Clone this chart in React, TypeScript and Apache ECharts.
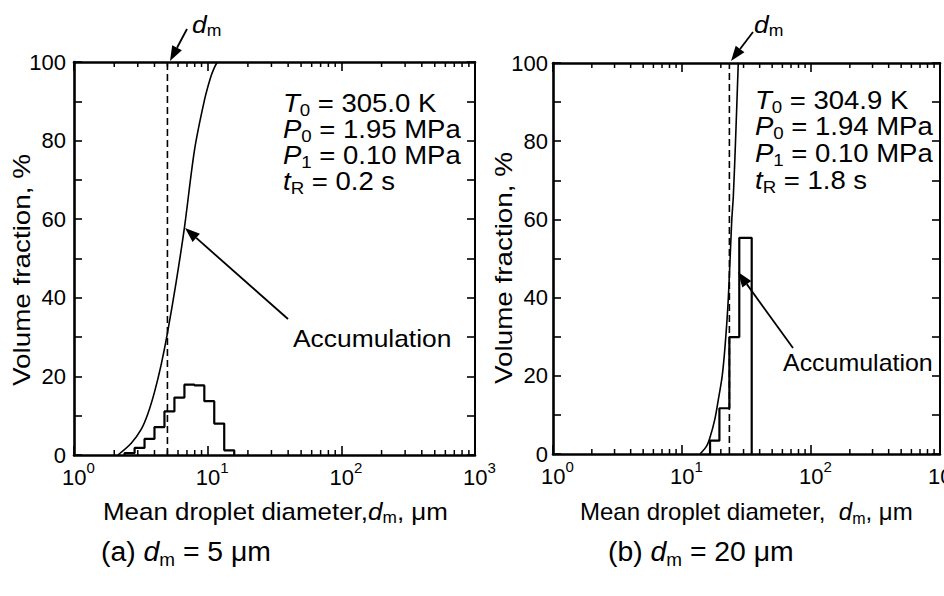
import React, { useEffect, useRef } from "react";
import * as echarts from "echarts";

// ---------- Panel (a): d_m = 5 um ----------
const binEdgesA = [2.39, 2.84, 3.37, 4.0, 4.75, 5.64, 6.7, 7.96, 9.44, 11.2, 13.3, 15.8];
const volumeA = [0.5, 1.8, 4.1, 7.1, 11.1, 14.6, 17.9, 17.7, 13.7, 8.0, 1.2];
const cumDiamA = [2.13, 2.68, 3.18, 3.57, 4.0, 4.49, 5.0, 5.81, 6.71, 7.97, 9.46, 10.5, 11.2, 11.8];
const cumValA = [0, 3, 6.5, 10.5, 16, 23, 31, 44, 58, 77.6, 90.3, 96, 98.5, 100];
const dmA = 5.0;

// ---------- Panel (b): d_m = 20 um ----------
const binEdgesB = [16.5, 19.5, 23.3, 27.8, 34.7];
const volumeB = [3.4, 11.7, 29.9, 55.3];
const cumDiamB = [13.8, 15.5, 16.5, 18, 19.1, 20.5, 21.5, 22.7, 23.6, 24.3, 25, 26, 27.3];
const cumValB = [0, 2, 4.3, 9, 13.8, 20, 27, 38, 50, 59.7, 66, 80, 100];
const dmB = 23.3;

// ---------- Axes ----------
const xMin = 1;
const xMax = 1000;
const yMin = 0;
const yMax = 100;
const yInterval = 20;
const minorXTicks = [2, 3, 4, 5, 6, 7, 8, 9, 20, 30, 40, 50, 60, 70, 80, 90, 200, 300, 400, 500, 600, 700, 800, 900];

const paramsA = ["305.0 K", "1.95 MPa", "0.10 MPa", "0.2 s"];
const paramsB = ["304.9 K", "1.94 MPa", "0.10 MPa", "1.8 s"];

const FONT = "'Liberation Sans', Arial, Helvetica, sans-serif";

function stepOutline(edges: number[], vals: number[]) {
  const pts: number[][] = [[edges[0], 0]];
  vals.forEach((v, i) => {
    pts.push([edges[i], v]);
    pts.push([edges[i + 1], v]);
  });
  pts.push([edges[edges.length - 1], 0]);
  return pts;
}

function zip(xs: number[], ys: number[]) {
  return xs.map((x, i) => [x, ys[i]]);
}

const xLabelRich = {
  pad: { width: 9, fontSize: 15 },
  b: { fontSize: 22, fontFamily: FONT, color: "#000", lineHeight: 28, verticalAlign: "bottom" },
  sup: { fontSize: 15, fontFamily: FONT, color: "#000", lineHeight: 16, verticalAlign: "top" },
};

function xAxis(gridIndex: number, position: "bottom" | "top") {
  return {
    type: "log",
    logBase: 10,
    gridIndex,
    position,
    min: xMin,
    max: xMax,
    axisLine: { show: true, onZero: false, lineStyle: { color: "#000", width: 2.6 } },
    axisTick: { show: true, inside: true, length: 9, lineStyle: { color: "#000", width: 1.6 } },
    axisLabel: {
      show: position === "bottom",
      margin: 5,
      formatter: (v: number) => `{pad| }{b|10}{sup|${Math.round(Math.log10(v))}}`,
      rich: xLabelRich,
    },
    splitLine: { show: false },
  };
}

function yAxis(gridIndex: number, position: "left" | "right", margin: number) {
  return {
    type: "value",
    gridIndex,
    position,
    min: yMin,
    max: yMax,
    interval: yInterval,
    axisLine: { show: true, onZero: false, lineStyle: { color: "#000", width: position === "left" ? 2.6 : 2 } },
    axisTick: { show: true, inside: true, length: 8, lineStyle: { color: "#000", width: 1.6 } },
    minorTick: { show: true, splitNumber: 2, length: 8, lineStyle: { color: "#000", width: 1.6 } },
    axisLabel: { show: position === "left", margin, fontSize: 22, fontFamily: FONT, color: "#000" },
    splitLine: { show: false },
  };
}

function minorTickSeries(xi: number, yi: number) {
  return {
    type: "custom",
    xAxisIndex: xi,
    yAxisIndex: yi,
    silent: true,
    data: minorXTicks.map((v) => [v, 0]),
    encode: { x: 0, y: 1 },
    renderItem: (params: any, api: any) => {
      const v = api.value(0);
      const b = api.coord([v, yMin]);
      const t = api.coord([v, yMax]);
      return {
        type: "group",
        children: [
          { type: "line", shape: { x1: b[0], y1: b[1], x2: b[0], y2: b[1] - 5 }, style: { stroke: "#000", lineWidth: 1.5 } },
          { type: "line", shape: { x1: t[0], y1: t[1], x2: t[0], y2: t[1] + 5 }, style: { stroke: "#000", lineWidth: 1.5 } },
        ],
      };
    },
  };
}

function panelSeries(xi: number, yi: number, edges: number[], vals: number[], cx: number[], cy: number[], dm: number) {
  return [
    {
      type: "line",
      xAxisIndex: xi,
      yAxisIndex: yi,
      data: stepOutline(edges, vals),
      showSymbol: false,
      symbol: "none",
      lineStyle: { color: "#000", width: 2.2 },
      silent: true,
    },
    {
      type: "line",
      xAxisIndex: xi,
      yAxisIndex: yi,
      data: zip(cx, cy),
      smooth: 0.3,
      showSymbol: false,
      symbol: "none",
      lineStyle: { color: "#000", width: 1.6 },
      silent: true,
    },
    {
      type: "line",
      xAxisIndex: xi,
      yAxisIndex: yi,
      data: [[dm, yMin], [dm, yMax]],
      showSymbol: false,
      symbol: "none",
      lineStyle: { color: "#000", width: 1.6, type: [7, 4] },
      silent: true,
    },
    minorTickSeries(xi, yi),
  ];
}

function arrow(x1: number, y1: number, x2: number, y2: number) {
  const ang = Math.atan2(y2 - y1, x2 - x1);
  const L = 15;
  const W = 5.5;
  const bx = x2 - L * Math.cos(ang);
  const by = y2 - L * Math.sin(ang);
  const px = -Math.sin(ang);
  const py = Math.cos(ang);
  return [
    { type: "line", shape: { x1, y1, x2: bx, y2: by }, style: { stroke: "#000", lineWidth: 1.8 } },
    {
      type: "polygon",
      shape: { points: [[x2, y2], [bx + px * W, by + py * W], [bx - px * W, by - py * W]] },
      style: { fill: "#000" },
    },
  ];
}

function makeRich(fs: number) {
  return {
    n: { fontSize: fs, fontFamily: FONT, color: "#000", lineHeight: fs + 6 },
    i: { fontSize: fs, fontFamily: FONT, fontStyle: "italic", color: "#000", lineHeight: fs + 6 },
    s: { fontSize: Math.round(fs * 0.66), fontFamily: FONT, color: "#000", lineHeight: Math.round(fs * 0.66), verticalAlign: "bottom" },
  };
}

function txt(x: number, y: number, text: string, fs = 24, sx = 1.1) {
  return {
    type: "text",
    x,
    y,
    scaleX: sx,
    style: {
      text,
      rich: makeRich(fs),
      fontSize: fs,
      fontFamily: FONT,
      fill: "#000",
      align: "left",
      verticalAlign: "middle",
    },
  };
}

function paramBlock(x: number, ys: number[], p: string[]) {
  return [
    txt(x, ys[0], `{i|T}{s|0}{n| = ${p[0]}}`, 25, 1.1),
    txt(x, ys[1], `{i|P}{s|0}{n| = ${p[1]}}`, 25, 1.1),
    txt(x, ys[2], `{i|P}{s|1}{n| = ${p[2]}}`, 25, 1.1),
    txt(x, ys[3], `{i|t}{s|R}{n| = ${p[3]}}`, 25, 1.1),
  ];
}

function yTitle(x: number, y: number) {
  return {
    type: "text",
    x,
    y,
    rotation: Math.PI / 2,
    scaleX: 1.16,
    style: { text: "Volume fraction, %", fontSize: 24, fontFamily: FONT, fill: "#000", align: "center", verticalAlign: "middle" },
  };
}

export default function App() {
  const ref = useRef<HTMLDivElement>(null);
  useEffect(() => {
    if (!ref.current) return;
    const chart = echarts.init(ref.current, undefined, { renderer: "svg" });
    const option: any = {
      animation: false,
      backgroundColor: "#fff",
      grid: [
        { left: 74, top: 62, width: 401, height: 393, outerBoundsMode: "none", containLabel: false },
        { left: 553, top: 63, width: 387, height: 391, outerBoundsMode: "none", containLabel: false },
      ],
      xAxis: [xAxis(0, "bottom"), xAxis(0, "top"), xAxis(1, "bottom"), xAxis(1, "top")],
      yAxis: [yAxis(0, "left", 8), yAxis(0, "right", 8), yAxis(1, "left", 5), yAxis(1, "right", 5)],
      series: [
        ...panelSeries(0, 0, binEdgesA, volumeA, cumDiamA, cumValA, dmA),
        ...panelSeries(2, 2, binEdgesB, volumeB, cumDiamB, cumValB, dmB),
      ],
      graphic: [
        // d_m arrows
        ...arrow(187, 29, 170, 61),
        txt(192, 24, "{i|d}{s|m}"),
        ...arrow(753, 32, 731, 61),
        txt(754, 24, "{i|d}{s|m}"),
        // Accumulation arrows
        ...arrow(288, 319, 185, 228),
        txt(293, 338, "{n|Accumulation}", 24, 1.1),
        ...arrow(793, 348, 738, 272),
        txt(783, 363, "{n|Accumulation}", 24, 1.04),
        // parameter blocks
        ...paramBlock(283, [103, 129, 155, 181], paramsA),
        ...paramBlock(755, [100, 126, 153, 180], paramsB),
        // axis titles
        txt(103, 511, "{n|Mean droplet diameter,}{i|d}{s|m}{n|, μm}", 24, 1.08),
        txt(580, 511, "{n|Mean droplet diameter,  }{i|d}{s|m}{n|, μm}", 24, 1.0),
        yTitle(22, 270),
        yTitle(504, 268),
        // captions
        txt(101, 552, "{n|(a) }{i|d}{s|m}{n| = 5 μm}", 27, 1.05),
        txt(608, 552, "{n|(b) }{i|d}{s|m}{n| = 20 μm}", 27, 1.05),
      ],
    };
    chart.setOption(option);
    return () => chart.dispose();
  }, []);
  return (
    <div
      ref={ref}
      style={{ position: "absolute", left: 0, top: 0, width: 944, height: 596, background: "#fff" }}
    />
  );
}
